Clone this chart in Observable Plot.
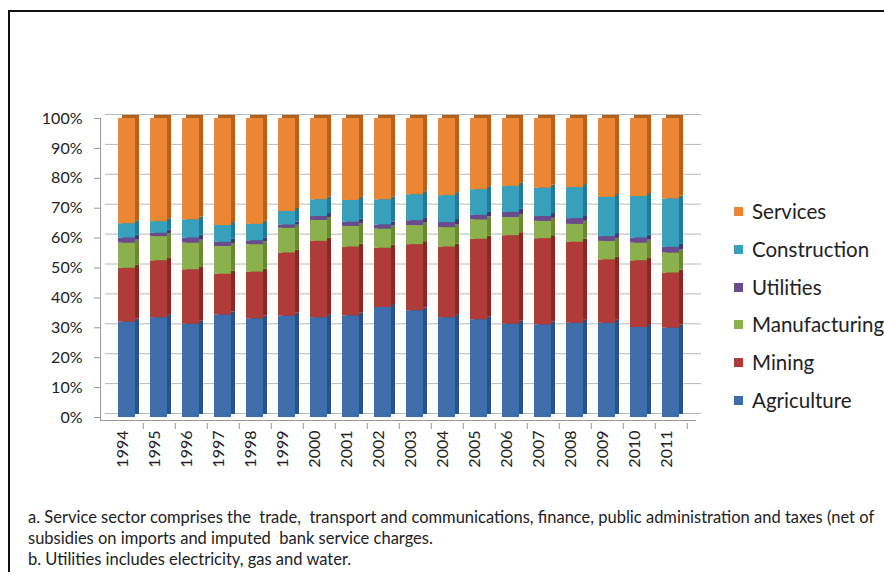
<!DOCTYPE html>
<html>
<head>
<meta charset="utf-8">
<script src="https://cdn.jsdelivr.net/npm/d3@7"></script>
<script src="https://cdn.jsdelivr.net/npm/@observablehq/plot@0.6"></script>
<style>
  html, body { margin: 0; padding: 0; background: #fff; }
  #page { position: relative; width: 884px; height: 576px; overflow: hidden; font-family: Lato, "Open Sans", sans-serif; color: #222; }
  #frameTop { position: absolute; left: 8px; top: 10px; width: 880px; height: 0; border-top: 2px solid #111; }
  #frameLeft { position: absolute; left: 8px; top: 10px; width: 0; height: 562px; border-left: 2px solid #111; }
  #chart { position: absolute; left: 0; top: 0; }
  #legend { position: absolute; left: 734px; top: 199px; }
  .li { position: absolute; left: 0; white-space: nowrap; font-size: 20.5px; line-height: 24px; }
  .sw { display: inline-block; width: 9px; height: 9px; margin-right: 9px; vertical-align: 3px; }
  #caption { position: absolute; left: 28px; top: 507px; font-size: 16.5px; white-space: nowrap; color: #222; }
  #caption div { height: 21px; line-height: 21px; }
</style>
</head>
<body>
<div id="page">
  <div id="frameTop"></div>
  <div id="frameLeft"></div>
  <div id="chart"></div>
  <div id="legend"></div>
  <div id="caption">
    <div>a. Service sector comprises the&nbsp; trade,&nbsp; transport and communications, finance, public administration and taxes (net of</div>
    <div>subsidies on imports and imputed&nbsp; bank service charges.</div>
    <div>b. Utilities includes electricity, gas and water.</div>
  </div>
</div>
<script>
const years = ["1994","1995","1996","1997","1998","1999","2000","2001","2002","2003","2004","2005","2006","2007","2008","2009","2010","2011"];
const sectors = ["Agriculture","Mining","Manufacturing","Utilities","Construction","Services"];
const colors = ["#3D6DAA","#B03C3A","#8CB04C","#6A4C8C","#37A0BD","#EA8634"];
const sideColors = ["#2C5185","#842A28","#6A8838","#4E3769","#277A92","#B5621F"];
const legendOrder = ["Services","Construction","Utilities","Manufacturing","Mining","Agriculture"];
const yTicks = [0,10,20,30,40,50,60,70,80,90,100];

const agriculture   = [31.9,33.4,31.2,34.3,33.0,33.9,33.4,34.0,36.8,35.7,33.4,32.7,31.2,31.0,31.5,31.5,30.1,29.9];
const mining        = [18.0,19.0,18.2,13.6,15.6,21.1,25.5,23.0,19.8,22.1,23.6,26.9,29.6,28.8,27.1,21.2,22.3,18.4];
const manufacturing = [8.4,8.1,8.9,9.3,9.2,8.3,7.0,6.9,6.4,6.4,6.5,6.5,6.1,5.8,6.0,6.2,5.9,6.7];
const utilities     = [1.7,1.1,1.7,1.4,1.3,1.1,1.3,1.4,1.4,1.6,1.7,1.5,1.7,1.6,1.9,1.6,1.7,1.9];
const construction  = [4.8,3.9,6.1,5.6,5.5,4.5,5.6,7.3,8.4,8.7,9.0,8.6,8.7,9.5,10.4,13.1,13.9,16.2];
const services      = [35.2,34.5,33.9,35.8,35.4,31.1,27.2,27.4,27.2,25.5,25.8,23.8,22.7,23.3,23.1,26.4,26.1,26.9];

const series = [agriculture, mining, manufacturing, utilities, construction, services];
const rows = [];
years.forEach((yr, i) => {
  sectors.forEach((s, k) => rows.push({year: yr, sector: s, value: series[k][i], k}));
});

const chart = Plot.plot({
  width: 884,
  height: 490,
  marginLeft: 100,
  marginRight: 188,
  marginTop: 118,
  marginBottom: 70,
  style: {fontFamily: "Lato, 'Open Sans', sans-serif", fontSize: "16px", color: "#222", background: "transparent"},
  x: {domain: years, range: [106, 690], paddingInner: 0.47, paddingOuter: 0.2, label: null},
  y: {domain: [0, 100], range: [417, 118], label: null},
  color: {type: "identity"},
  marks: [
    Plot.gridY(yTicks, {stroke: "#b8b8b8", strokeOpacity: 1, dx: 5, dy: -4}),
    Plot.frame({anchor: "left", stroke: "#999"}),
    Plot.ruleY([0], {stroke: "#999", dy: 3}),
    Plot.axisY(yTicks, {tickFormat: d => d + "%", tickSize: 6, tickPadding: 12, stroke: "#999", fill: "#222", fontSize: 16, label: null}),
    Plot.axisX({tickRotate: -90, tickSize: 0, tickPadding: 10, dx: -4, fill: "#222", fontSize: 16, label: null}),
    Plot.axisX({tickFormat: () => "", tickSize: 6, dx: 16.3, dy: 3, stroke: "#999", label: null}),
    Plot.barY(rows, Plot.stackY({x: "year", y: "value", fill: d => sideColors[d.k], dx: 4, dy: -3})),
    Plot.barY(rows, Plot.stackY({x: "year", y: "value", fill: d => colors[d.k]}))
  ]
});
document.getElementById("chart").appendChild(chart);

const legend = document.getElementById("legend");
legendOrder.forEach((s, i) => {
  const k = sectors.indexOf(s);
  const div = document.createElement("div");
  div.className = "li";
  div.style.top = (i * 37.8) + "px";
  const sw = document.createElement("span");
  sw.className = "sw";
  sw.style.background = colors[k];
  div.appendChild(sw);
  div.appendChild(document.createTextNode(s));
  legend.appendChild(div);
});
</script>
</body>
</html>
